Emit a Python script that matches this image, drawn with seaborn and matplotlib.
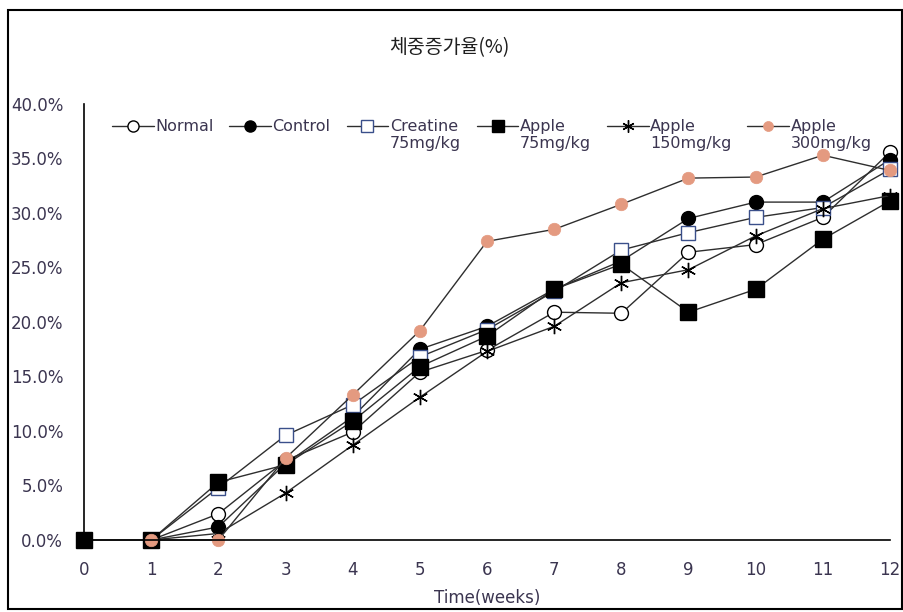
import numpy as np
import pandas as pd
import matplotlib
matplotlib.use("Agg")
import matplotlib.pyplot as plt
import seaborn as sns
from matplotlib.ticker import PercentFormatter, MultipleLocator
from matplotlib.patches import Rectangle

# Body-weight gain (%) by week for each group
weeks = list(range(0, 13))
nan = np.nan
normal = [nan, 0.0, 2.4, 7.3, 9.9, 15.4, 17.4, 20.9, 20.8, 26.4, 27.1, 29.6, 35.6]
control = [nan, 0.0, 1.2, 7.0, 11.3, 17.5, 19.6, 23.0, 25.6, 29.5, 31.0, 31.0, 34.9]
creatine_75 = [nan, 0.0, 4.8, 9.6, 12.4, 16.8, 19.3, 22.8, 26.6, 28.2, 29.6, 30.5, 34.0]
apple_75 = [0.0, 0.0, 5.3, 6.9, 10.9, 15.9, 18.7, 23.0, 25.3, 20.9, 23.0, 27.6, 31.1]
apple_150 = [nan, 0.0, 0.6, 4.3, 8.7, 13.1, 17.3, 19.6, 23.6, 24.8, 27.9, 30.4, 31.6]
apple_300 = [nan, 0.0, 0.0, 7.5, 13.3, 19.2, 27.4, 28.5, 30.8, 33.2, 33.3, 35.3, 33.9]

labels = ["Normal", "Control", "Creatine\n75mg/kg", "Apple\n75mg/kg",
          "Apple\n150mg/kg", "Apple\n300mg/kg"]
series = [normal, control, creatine_75, apple_75, apple_150, apple_300]

title = "체중증가율(%)"
xlabel = "Time(weeks)"

sns.set_theme(style="white")
plt.rcParams["font.family"] = ["DejaVu Sans", "Noto Sans CJK KR"]

text_color = "#3b3550"
line_color = "#2e2e2e"

styles = [
    dict(marker="o", markersize=10, markerfacecolor="white", markeredgecolor="black", markeredgewidth=1.0),
    dict(marker="o", markersize=10, markerfacecolor="black", markeredgecolor="black", markeredgewidth=1.0),
    dict(marker="s", markersize=10, markerfacecolor="white", markeredgecolor="#3a4f8a", markeredgewidth=1.0),
    dict(marker="s", markersize=11, markerfacecolor="black", markeredgecolor="black", markeredgewidth=1.0),
    dict(marker=(6, 2, 0), markersize=11, markerfacecolor="black", markeredgecolor="black", markeredgewidth=1.0),
    dict(marker="o", markersize=9, markerfacecolor="#e49a80", markeredgecolor="#e49a80", markeredgewidth=0.5),
]

fig = plt.figure(figsize=(9.04, 6.12), dpi=100)
ax = fig.add_axes([84 / 904, 1 - 540 / 612, 806 / 904, 436 / 612])

for vals, lab, st in zip(series, labels, styles):
    df = pd.DataFrame({"week": weeks, "gain": vals}).dropna()
    sns.lineplot(data=df, x="week", y="gain", ax=ax, color=line_color,
                 linewidth=1.0, errorbar=None, label=lab, clip_on=False, **st)

ax.set_xlim(0, 12)
ax.set_ylim(0, 40)
ax.xaxis.set_major_locator(MultipleLocator(1))
ax.yaxis.set_major_locator(MultipleLocator(5))
ax.yaxis.set_major_formatter(PercentFormatter(xmax=100, decimals=1))

for side in ["top", "right"]:
    ax.spines[side].set_visible(False)
for side in ["left", "bottom"]:
    ax.spines[side].set_color("black")
    ax.spines[side].set_linewidth(1.2)

ax.tick_params(axis="x", direction="in", length=4, width=1, color="black",
               pad=15, labelsize=12, labelcolor=text_color)
ax.tick_params(axis="y", direction="out", length=4, width=1, color="black",
               pad=11, labelsize=12, labelcolor=text_color)
ax.set_xlabel(xlabel, fontsize=12, color=text_color, labelpad=7)
ax.set_ylabel("")

leg = ax.legend(loc="upper left", bbox_to_anchor=(104 / 904, 1 - 111 / 612),
                bbox_transform=fig.transFigure, ncol=6, frameon=False,
                fontsize=11.5, handlelength=2.6, handletextpad=0.1,
                columnspacing=1.0, borderpad=0, handleheight=1.1,
                markerscale=0.8)
for txt in leg.get_texts():
    txt.set_color(text_color)
# align entries and columns on their top edge so markers sit by the first label line
leg._legend_handle_box.align = "top"
for col in leg._legend_handle_box.get_children():
    col.align = "left"
    for item in col.get_children():
        item.align = "top"

fig.text(449 / 904, 1 - 48 / 612, title, ha="center", va="center", fontsize=14,
         color="#1e1e1e", family=["Noto Sans CJK KR", "DejaVu Sans"])

# outer frame around the whole chart
fig.patches.append(Rectangle((8 / 904, 3 / 612), 894 / 904, 599 / 612,
                             transform=fig.transFigure, fill=False,
                             edgecolor="black", linewidth=1.5))

fig.savefig("out.png", dpi=100)
